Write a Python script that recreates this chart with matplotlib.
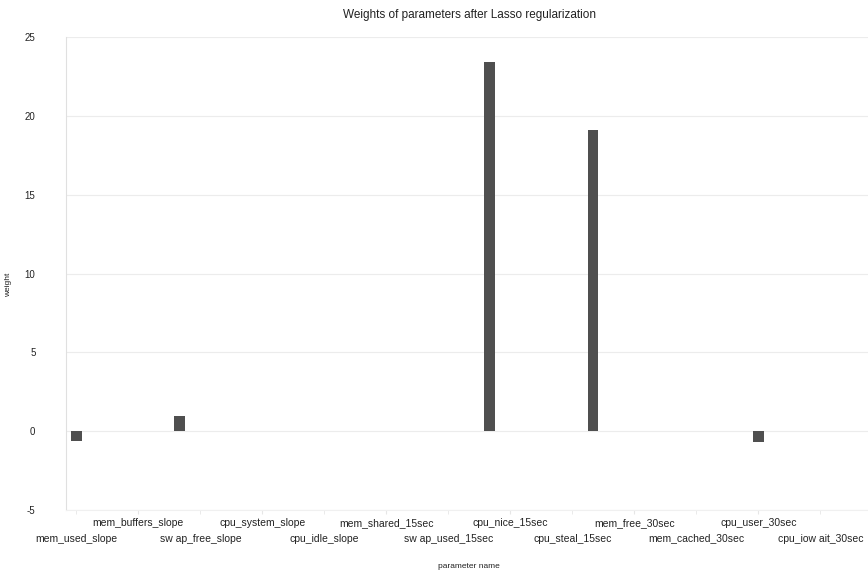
import matplotlib.pyplot as plt

plt.rcParams['font.family'] = ['Liberation Sans', 'DejaVu Sans']
plt.rcParams['axes.unicode_minus'] = False

# 13 metrics x 3 windows = 39 parameters
metrics = ['mem_used', 'mem_free', 'mem_shared', 'mem_buffers', 'mem_cached',
           'swap_used', 'swap_free', 'cpu_user', 'cpu_nice', 'cpu_system',
           'cpu_iowait', 'cpu_steal', 'cpu_idle']
windows = ['slope', '15sec', '30sec']
params = [m + '_' + w for w in windows for m in metrics]

# non-zero weights left by Lasso (everything else is 0)
nonzero = {
    'mem_used_slope': -0.65,
    'swap_used_slope': 0.95,
    'cpu_user_15sec': 23.4,
    'cpu_idle_15sec': 19.1,
    'cpu_user_30sec': -0.7,
}
weights = [nonzero.get(p, 0.0) for p in params]

fig = plt.figure(figsize=(8.68, 5.76), dpi=100)
ax = fig.add_axes([66 / 868, 1 - 510 / 576, 806 / 868, 473 / 576])

x = list(range(len(params)))
ax.bar(x, weights, width=0.53, color='#4f4f4f', linewidth=0, zorder=3)

ax.set_xlim(-0.5, len(params) - 0.5)
ax.set_ylim(-5, 25)
ax.set_yticks([-5, 0, 5, 10, 15, 20, 25])
ax.yaxis.grid(True, color='#ececec', linewidth=0.8, zorder=0)

# Excel-style: every third label, staggered on two rows
shown = x[::3]
names = [params[k].replace('swap', 'sw ap').replace('iowait', 'iow ait') for k in shown]
upper = shown[1::2]
lower = shown[0::2]
ax.set_xticks(upper)
ax.set_xticklabels(names[1::2])
ax.set_xticks(lower, minor=True)
ax.set_xticklabels(names[0::2], minor=True)

for s in ['top', 'right']:
    ax.spines[s].set_visible(False)
ax.spines['left'].set_color('#e0e0e0')
ax.spines['bottom'].set_color('#f0f0f0')
ax.tick_params(axis='y', length=0, labelsize=7, pad=22, colors='#222222')
ax.tick_params(axis='x', which='major', length=3, color='#e6e6e6', pad=3,
               labelsize=7.5, labelcolor='#222222')
ax.tick_params(axis='x', which='minor', length=3, color='#e6e6e6', pad=14,
               labelsize=7.5, labelcolor='#222222')

ax.set_title('Weights of parameters after Lasso regularization', fontsize=8.5, pad=14, color='#222222')
ax.set_xlabel('parameter name', fontsize=6, labelpad=14, color='#222222')
fig.text(9 / 868, 1 - 285 / 576, 'weight', fontsize=6, rotation=90,
         ha='center', va='center', color='#222222')

fig.savefig('out.png', dpi=100)
